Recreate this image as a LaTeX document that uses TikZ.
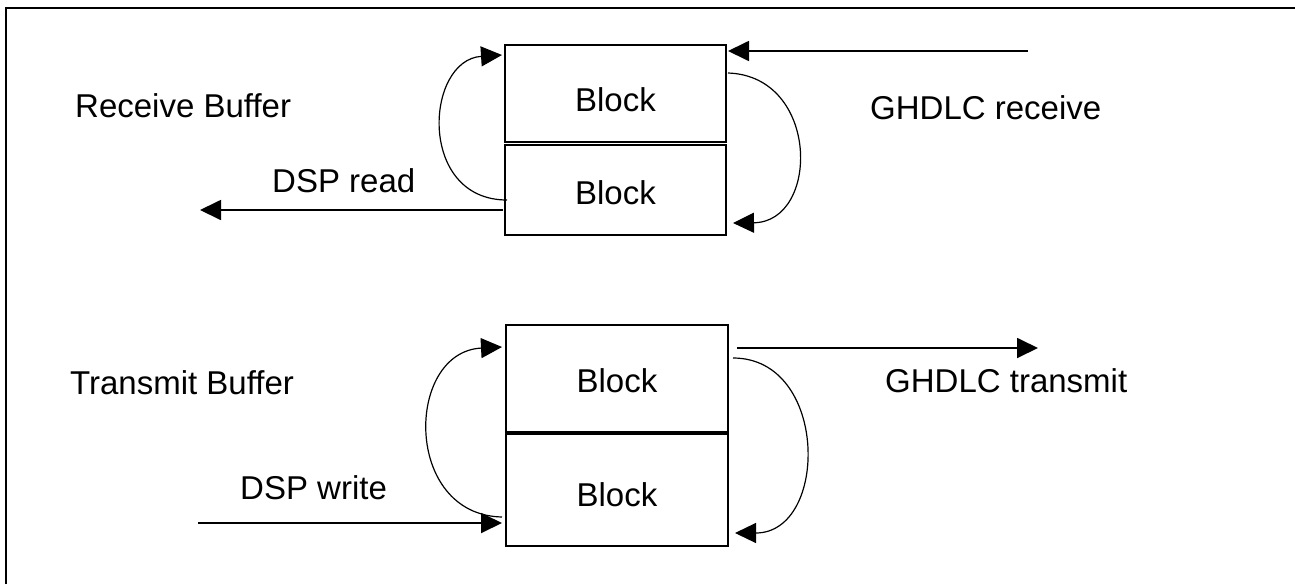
\documentclass[tikz,border=0pt]{standalone}
\usepackage{fontspec}
\setmainfont{Liberation Sans}
\usetikzlibrary{arrows.meta}
\begin{document}
\begin{tikzpicture}[x=1pt,y=-1pt,
  blockbox/.style={draw,line width=2pt,minimum width=221pt,inner sep=0pt},
  blocktext/.style={inner sep=0pt,font=\fontsize{33}{36}\selectfont},
  lbl/.style={inner sep=0pt,anchor=base west,font=\fontsize{33}{36}\selectfont},
  tip/.style={-{Triangle[length=21pt,width=20pt]}},
  flow/.style={tip,line width=1.8pt},
  loop/.style={tip,line width=1.2pt}]
\useasboundingbox (0,0) rectangle (1295,584);
\draw[line width=1.8pt] (6,584) -- (6,8) -- (1295,8);
% receive buffer
\node[blockbox,minimum height=96.5pt] (ra) at (615.5,93.25) {};
\node[blockbox,minimum height=90pt] (rb) at (615.5,190) {};
% transmit buffer
\node[blockbox,minimum height=106.5pt,minimum width=222pt] (ta) at (617,378.25) {};
\node[blockbox,minimum height=112.5pt,minimum width=222pt] (tb) at (617,489.75) {};
% block texts
\node[blocktext] (rat) at ([yshift=-6pt]ra.center) {Block};
\node[blocktext] (rbt) at ([yshift=-3pt]rb.center) {Block};
\node[blocktext] (tat) at ([yshift=-2pt]ta.center) {Block};
\node[blocktext] (tbt) at ([yshift=-5pt]tb.center) {Block};
% labels
\node[lbl] (recv) at (75,117) {Receive Buffer};
\node[lbl] (trans) at (70,394) {Transmit Buffer};
\node[lbl] (ghr) at (870,119) {GHDLC receive};
\node[lbl] (ght) at (885,392) {GHDLC transmit};
\node[lbl] (dspr) at (272,192) {DSP read};
\node[lbl] (dspw) at (240,499) {DSP write};
% free ends
\coordinate (grs) at (1028,51);
\coordinate (gre) at (728,51);
\coordinate (drs) at (503,210);
\coordinate (dre) at (200,210);
\coordinate (gts) at (737,348);
\coordinate (gte) at (1038,348);
\coordinate (dws) at (198,523);
\coordinate (dwe) at (502,523);
\coordinate (l1s) at (507,200);
\coordinate (l1e) at (502,55);
\coordinate (r1s) at (728,73);
\coordinate (r1e) at (733,223);
\coordinate (l2s) at (502,517);
\coordinate (l2e) at (502,347);
\coordinate (r2s) at (733,358);
\coordinate (r2e) at (735,533);
% straight flows
\draw[flow] (grs) -- (gre);
\draw[flow] (drs) -- (dre);
\draw[flow] (gts) -- (gte);
\draw[flow] (dws) -- (dwe);
% loops
\draw[loop] (l1s) .. controls (417,200) and (425,60) .. (l1e);
\draw[loop] (r1s) .. controls (820,76) and (820,222) .. (r1e);
\draw[loop] (l2s) .. controls (403,515) and (405,352) .. (l2e);
\draw[loop] (r2s) .. controls (829,358) and (829,533) .. (r2e);
\end{tikzpicture}
\end{document}
